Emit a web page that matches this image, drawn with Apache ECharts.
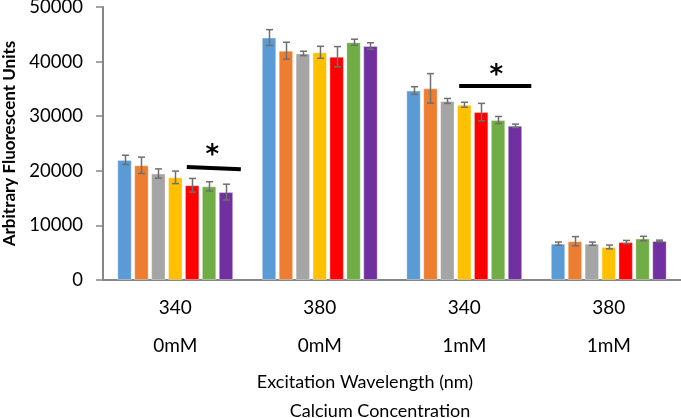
<!DOCTYPE html>
<html>
<head>
<meta charset="utf-8">
<script src="https://cdn.jsdelivr.net/npm/echarts@6/dist/echarts.min.js"></script>
<style>
html,body{margin:0;padding:0;background:#fff;}
#chart{width:681px;height:418px;}
</style>
</head>
<body>
<div id="chart"></div>
<script>
var categories = ['340\n0mM', '380\n0mM', '340\n1mM', '380\n1mM'];
var yTicks = [0, 10000, 20000, 30000, 40000, 50000];
var colors = ['#5B9BD5', '#ED7D31', '#A5A5A5', '#FFC000', '#FF0000', '#70AD47', '#7030A0'];
var seriesNames = ['Series 1', 'Series 2', 'Series 3', 'Series 4', 'Series 5', 'Series 6', 'Series 7'];

var s1 = [22000, 44400, 34700, 6650];
var s2 = [21000, 42000, 35100, 7100];
var s3 = [19500, 41500, 32800, 6650];
var s4 = [18800, 41700, 32100, 6050];
var s5 = [17350, 40900, 30750, 6950];
var s6 = [17150, 43550, 29300, 7600];
var s7 = [16100, 42850, 28250, 7150];

var e1 = [850, 1450, 700, 300];
var e2 = [1500, 1550, 2700, 850];
var e3 = [850, 400, 450, 300];
var e4 = [1150, 1100, 450, 350];
var e5 = [1250, 1850, 1600, 300];
var e6 = [850, 550, 650, 400];
var e7 = [1450, 600, 300, 150];

// significance annotations: [category index, x offset from category centre (fraction of slot), y, x offset 2, y2]
var sigLines = [[0, 0.08, 20700, 0.454, 20300], [2, -0.035, 35530, 0.464, 35530]];
// [category index, x offset (fraction of slot), y]
var sigStars = [[0, 0.257, 22750], [2, 0.221, 37400]];

var values = [s1, s2, s3, s4, s5, s6, s7];
var errors = [e1, e2, e3, e4, e5, e6, e7];

var BAR_W = 0.1, BAR_GAP = 0.17;
var FONT = 'Lato, "Liberation Sans", sans-serif';
var AXIS_COLOR = '#868686';

var series = [];
values.forEach(function (vals, i) {
  series.push({
    name: seriesNames[i],
    type: 'bar',
    data: vals,
    barWidth: (BAR_W * 100) + '%',
    barGap: (BAR_GAP * 100) + '%',
    itemStyle: {color: colors[i], borderColor: 'rgba(255,255,255,0.35)', borderWidth: 1},
    z: 2
  });
});
values.forEach(function (vals, i) {
  series.push({
    type: 'custom',
    z: 5,
    silent: true,
    data: vals.map(function (v, c) { return [c, v, errors[i][c]]; }),
    encode: {x: 0, y: 1},
    renderItem: function (params, api) {
      var c = api.value(0), v = api.value(1), e = api.value(2);
      var base = api.coord([c, v]);
      var band = api.size([1, 0])[0];
      var bw = band * BAR_W;
      var pitch = bw * (1 + BAR_GAP);
      var cx = Math.round(base[0] + (i - 3) * pitch) + 0.5;
      var top = api.coord([c, v + e])[1];
      var bot = api.coord([c, v - e])[1];
      var hw = 3.5;
      var st = {stroke: '#6f6f6f', lineWidth: 1.5};
      return {
        type: 'group',
        children: [
          {type: 'line', shape: {x1: cx, y1: top, x2: cx, y2: bot}, style: st},
          {type: 'line', shape: {x1: cx - hw, y1: top, x2: cx + hw, y2: top}, style: st},
          {type: 'line', shape: {x1: cx - hw, y1: bot, x2: cx + hw, y2: bot}, style: st}
        ]
      };
    }
  });
});
series.push({
  type: 'custom', z: 6, silent: true, data: sigLines, encode: {x: 0, y: 2},
  renderItem: function (params, api) {
    var c = api.value(0);
    var band = api.size([1, 0])[0];
    var p1 = api.coord([c, api.value(2)]);
    var p2 = api.coord([c, api.value(4)]);
    return {type: 'line', shape: {
      x1: p1[0] + api.value(1) * band, y1: p1[1],
      x2: p2[0] + api.value(3) * band, y2: p2[1]},
      style: {stroke: '#000', lineWidth: 4}};
  }
});
series.push({
  type: 'custom', z: 6, silent: true, data: sigStars, encode: {x: 0, y: 2},
  renderItem: function (params, api) {
    var c = api.value(0);
    var band = api.size([1, 0])[0];
    var p = api.coord([c, api.value(2)]);
    return {type: 'text', x: p[0] + api.value(1) * band, y: p[1],
      style: {text: '*', fill: '#000', font: 'bold 26px "DejaVu Sans", sans-serif',
        textAlign: 'center', textVerticalAlign: 'middle'}};
  }
});

var chart = echarts.init(document.getElementById('chart'));
chart.setOption({
  animation: false,
  backgroundColor: '#fff',
  grid: {left: 103, right: 0, top: 7, bottom: 138, containLabel: false, outerBoundsMode: 'none'},
  xAxis: {
    type: 'category',
    data: categories,
    axisLine: {lineStyle: {color: AXIS_COLOR, width: 2}},
    axisTick: {show: false},
    axisLabel: {fontSize: 19, lineHeight: 38, margin: 9, color: '#000', fontFamily: FONT}
  },
  yAxis: {
    type: 'value',
    position: 'left',
    min: yTicks[0], max: yTicks[yTicks.length - 1], interval: yTicks[1] - yTicks[0],
    name: 'Arbitrary Fluorescent Units',
    nameLocation: 'middle',
    nameGap: 84,
    nameTextStyle: {fontSize: 17, fontWeight: 'bold', color: '#000', fontFamily: FONT},
    axisLine: {show: true, onZero: false, lineStyle: {color: AXIS_COLOR, width: 2}},
    axisTick: {show: true, inside: false, length: 7, lineStyle: {color: AXIS_COLOR, width: 1.5}},
    splitLine: {show: false},
    axisLabel: {fontSize: 18.5, margin: 20, color: '#000', fontFamily: FONT,
      formatter: function (v) { return String(v); }}
  },
  graphic: [
    {type: 'text', x: 365, y: 382, style: {text: 'Excitation Wavelength (nm)', fontSize: 18,
      fontFamily: FONT, fill: '#000', textAlign: 'center', textVerticalAlign: 'middle'}},
    {type: 'text', x: 380, y: 411, style: {text: 'Calcium Concentration', fontSize: 18,
      fontFamily: FONT, fill: '#000', textAlign: 'center', textVerticalAlign: 'middle'}}
  ],
  series: series
});
</script>
</body>
</html>
